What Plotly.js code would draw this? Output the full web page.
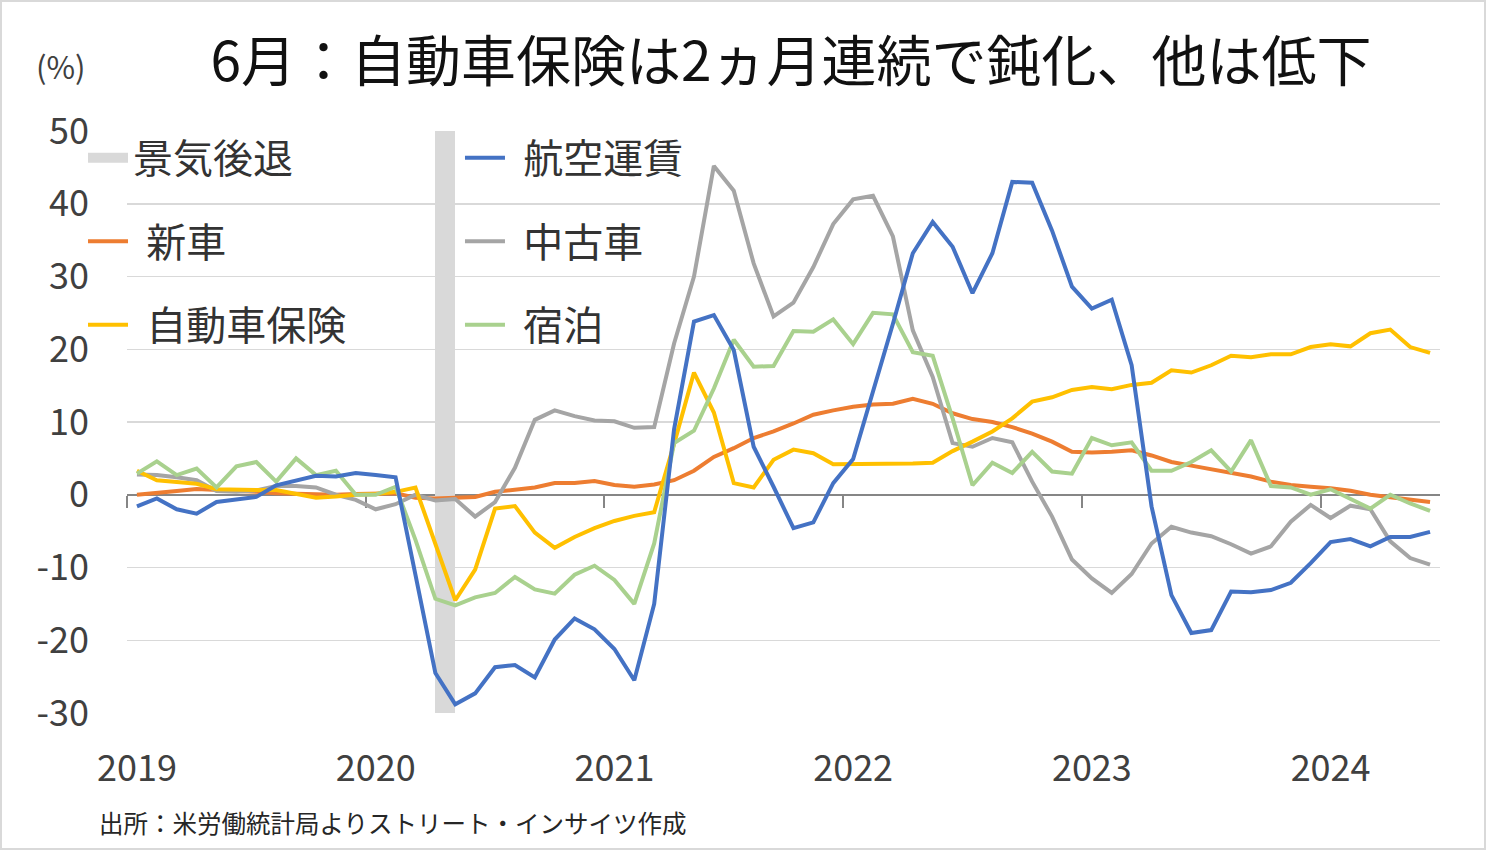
<!DOCTYPE html>
<html>
<head>
<meta charset="utf-8">
<script src="https://cdn.plot.ly/plotly-3.0.1.min.js"></script>
<style>
  html, body { margin: 0; padding: 0; background: #ffffff; }
  #chart { width: 1482px; height: 846px; border: 2px solid #d9d9d9; }
</style>
</head>
<body>
<div id="chart"></div>
<script>
// ---- categories ----
const firstYear = 2019;
const lastYear = 2024;
const lastMonth = 6;
const months = [];
for (let y = firstYear; y <= lastYear; y++) {
  for (let m = 1; m <= 12; m++) {
    if (y === lastYear && m > lastMonth) break;
    months.push(y + '-' + String(m).padStart(2, '0'));
  }
}
const yearLabels = ['2019', '2020', '2021', '2022', '2023', '2024'];
const yTickValues = [-30, -20, -10, 0, 10, 20, 30, 40, 50];
const yTickLabels = ['-30', '-20', '-10', '0', '10', '20', '30', '40', '50'];

// ---- series (y/y %) ----
const airfare = [-1.6, -0.5, -2.0, -2.6, -1.0, -0.6, -0.3, 1.3, 2.0, 2.6, 2.5, 3.0,
  2.7, 2.4, -11.0, -24.5, -28.8, -27.3, -23.7, -23.4, -25.1, -19.9, -17.0, -18.5,
  -21.2, -25.5, -15.0, 9.0, 23.8, 24.7, 19.9, 6.6, 1.1, -4.6, -3.8, 1.6,
  4.9, 14.0, 23.5, 33.2, 37.5, 34.1, 27.7, 33.2, 43.0, 42.9, 36.3, 28.6,
  25.6, 26.8, 17.8, -1.6, -13.8, -19.0, -18.6, -13.3, -13.4, -13.1, -12.1, -9.4,
  -6.5, -6.1, -7.1, -5.8, -5.8, -5.1];
const newCars = [0.0, 0.2, 0.5, 0.8, 0.7, 0.6, 0.4, 0.2, 0.1, 0.0, 0.0, 0.1,
  0.1, 0.2, -0.4, -0.5, -0.4, -0.3, 0.4, 0.75, 1.0, 1.6, 1.6, 1.9,
  1.35, 1.1, 1.4, 2.0, 3.3, 5.2, 6.4, 7.8, 8.7, 9.8, 11.0, 11.6,
  12.1, 12.4, 12.5, 13.2, 12.5, 11.2, 10.4, 10.0, 9.3, 8.4, 7.3, 5.9,
  5.8, 5.9, 6.1, 5.4, 4.5, 4.0, 3.5, 2.9, 2.5, 1.8, 1.35, 1.1,
  0.9, 0.56, 0.0, -0.35, -0.7, -1.0];
const usedCars = [2.8, 2.7, 2.4, 2.0, 0.5, 0.4, 0.6, 1.2, 1.2, 1.0, 0.0, -0.7,
  -2.0, -1.3, 0.0, -0.8, -0.6, -3.0, -1.0, 3.7, 10.3, 11.6, 10.8, 10.2,
  10.1, 9.2, 9.3, 20.8, 30.0, 45.2, 41.8, 31.8, 24.5, 26.4, 31.3, 37.2,
  40.6, 41.1, 35.5, 22.6, 16.2, 7.1, 6.6, 7.8, 7.2, 1.8, -3.0, -8.9,
  -11.5, -13.5, -10.9, -6.7, -4.4, -5.2, -5.7, -6.8, -8.1, -7.1, -3.7, -1.4,
  -3.2, -1.5, -2.0, -6.4, -8.7, -9.6];
const autoInsurance = [3.3, 2.0, 1.75, 1.5, 0.75, 0.65, 0.65, 0.65, 0.1, -0.4, -0.25, 0.0,
  0.1, 0.4, 1.0, -6.8, -14.5, -10.3, -1.9, -1.55, -5.2, -7.3, -5.8, -4.6,
  -3.6, -2.9, -2.4, 7.0, 16.8, 11.3, 1.6, 1.0, 4.8, 6.2, 5.7, 4.2,
  4.2, 4.3, 4.3, 4.3, 4.4, 6.0, 7.3, 8.7, 10.5, 12.8, 13.4, 14.4,
  14.8, 14.5, 15.1, 15.4, 17.1, 16.8, 17.8, 19.1, 18.9, 19.3, 19.3, 20.3,
  20.7, 20.4, 22.2, 22.7, 20.3, 19.5];
const lodging = [2.9, 4.6, 2.7, 3.6, 1.0, 3.9, 4.5, 1.8, 5.0, 2.7, 3.3, 0.0,
  0.0, 1.1, -6.2, -14.3, -15.2, -14.1, -13.5, -11.3, -13.0, -13.6, -11.0, -9.75,
  -11.7, -15.0, -6.7, 7.1, 8.8, 14.6, 21.3, 17.6, 17.7, 22.5, 22.4, 24.1,
  20.7, 25.0, 24.8, 19.6, 19.1, 10.5, 1.3, 4.4, 3.0, 5.9, 3.2, 2.9,
  7.8, 6.8, 7.2, 3.3, 3.3, 4.5, 6.1, 3.2, 7.5, 1.2, 1.0, 0.0,
  0.75, -0.6, -1.9, 0.0, -1.2, -2.2];

// recession band (NBER), drawn from this month to the next
const recessionFrom = '2020-04';
const recessionTo = '2020-05';

// ---- derived helpers ----
const xIdx = months.map((m, i) => i);
const yMin = -30, yMax = 50;
const yearStartIdx = yearLabels.map(y => months.indexOf(y + '-01'));
const yearBoundaries = yearStartIdx.map(i => i - 0.5);
const xRange = [-0.5, months.length - 0.5];
const recA = months.indexOf(recessionFrom);
const recB = months.indexOf(recessionTo);

const FONT = '"Noto Sans CJK JP", "Noto Sans", sans-serif';
const lineW = 4;
const GAP = '\u2004'; // small space between legend line and label, as in the original
const RECESSION_COLOR = '#d9d9d9';

function lineTrace(name, values, color, legendId, rank) {
  return {
    type: 'scatter', mode: 'lines', name: GAP + name,
    x: xIdx, y: values,
    line: { color: color, width: lineW },
    legend: legendId, legendgroup: name, legendrank: rank,
    hoverinfo: 'skip'
  };
}

const traces = [
  {
    type: 'bar', name: '景気後退', showlegend: false,
    x: [(recA + recB) / 2], y: [yMax - yMin], base: [yMin], width: [recB - recA],
    marker: { color: RECESSION_COLOR, line: { width: 0 } },
    legendgroup: '景気後退',
    hoverinfo: 'skip'
  },
  // legend key for the recession band (wide grey swatch, as in the original)
  {
    type: 'scatter', mode: 'lines', name: '景気後退',
    x: [null], y: [null],
    line: { color: RECESSION_COLOR, width: 23 },
    legend: 'legend', legendgroup: '景気後退', legendrank: 1,
    hoverinfo: 'skip'
  },
  lineTrace('新車', newCars, '#ED7D31', 'legend', 2),
  lineTrace('中古車', usedCars, '#A5A5A5', 'legend2', 2),
  lineTrace('自動車保険', autoInsurance, '#FFC000', 'legend', 3),
  lineTrace('宿泊', lodging, '#A9D18E', 'legend2', 3),
  lineTrace('航空運賃', airfare, '#4472C4', 'legend2', 1),
  { type: 'scatter', mode: 'lines', x: [], y: [], xaxis: 'x2', yaxis: 'y', showlegend: false, hoverinfo: 'skip' }
];

const legendFont = { family: FONT, size: 40, color: '#333333' };

const layout = {
  width: 1482, height: 846,
  margin: { l: 125, r: 44, t: 129, b: 135 },
  paper_bgcolor: '#ffffff', plot_bgcolor: '#ffffff',
  font: { family: FONT, color: '#404040' },
  showlegend: true,
  bargap: 0,
  title: {
    text: '6月：自動車保険は2ヵ月連続で鈍化、他は低下',
    font: { family: FONT, size: 55, color: '#111111' },
    xref: 'container', x: 0.5324, xanchor: 'center',
    yref: 'container', y: 0.929, yanchor: 'middle'
  },
  xaxis: {
    range: xRange, tickmode: 'array', tickvals: yearStartIdx, ticktext: yearLabels,
    ticks: '', showgrid: false, zeroline: false, showline: false,
    tickfont: { family: FONT, size: 36, color: '#404040' },
    ticklabelstandoff: 31
  },
  xaxis2: {
    overlaying: 'x', anchor: 'free', position: (0 - yMin) / (yMax - yMin),
    range: xRange, tickmode: 'array', tickvals: yearBoundaries,
    ticks: 'outside', ticklen: 12, tickwidth: 2, tickcolor: '#868686',
    showticklabels: false, showgrid: false, zeroline: false,
    showline: true, linecolor: '#868686', linewidth: 2, layer: 'below traces'
  },
  yaxis: {
    range: [yMin, yMax], tickmode: 'array', tickvals: yTickValues, ticktext: yTickLabels,
    showgrid: true, gridcolor: '#d9d9d9', gridwidth: 1.5,
    zeroline: false, showline: false, ticks: '',
    tickfont: { family: FONT, size: 36, color: '#404040' },
    ticklabelstandoff: 37
  },
  legend: {
    x: -0.0335, xanchor: 'left', y: 1.01, yanchor: 'top',
    bgcolor: 'rgba(0,0,0,0)', font: legendFont,
    traceorder: 'grouped', tracegroupgap: 28.5, itemwidth: 40
  },
  legend2: {
    x: 0.2536, xanchor: 'left', y: 1.01, yanchor: 'top',
    bgcolor: 'rgba(0,0,0,0)', font: legendFont,
    traceorder: 'grouped', tracegroupgap: 28.5, itemwidth: 40
  },
  annotations: [
    {
      text: '(%)', showarrow: false,
      xref: 'paper', x: -0.0705, xanchor: 'left',
      yref: 'paper', y: 1.112, yanchor: 'middle',
      font: { family: FONT, size: 31, color: '#404040' }
    },
    {
      text: '出所：米労働統計局よりストリート・インサイツ作成', showarrow: false,
      xref: 'paper', x: -0.0225, xanchor: 'left',
      yref: 'paper', y: -0.189, yanchor: 'middle',
      font: { family: FONT, size: 24.5, color: '#262626' }
    }
  ]
};

Plotly.newPlot('chart', traces, layout, { staticPlot: true, displayModeBar: false });
</script>
</body>
</html>
